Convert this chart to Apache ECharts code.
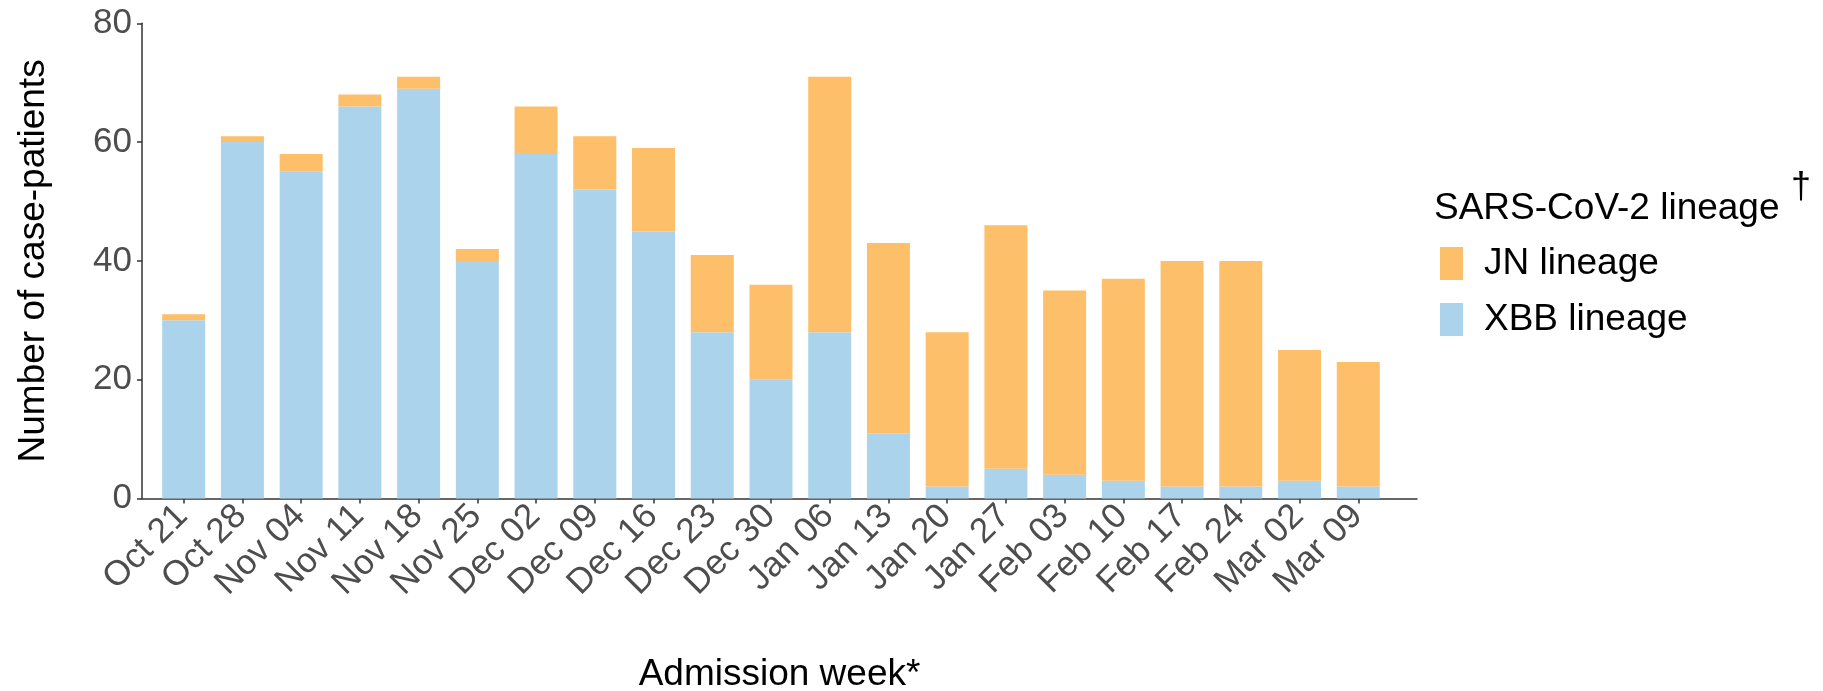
<!DOCTYPE html>
<html>
<head>
<meta charset="utf-8">
<script src="https://cdn.jsdelivr.net/npm/echarts@6/dist/echarts.min.js"></script>
<style>
html,body{margin:0;padding:0;background:#fff;}
#c{width:1823px;height:691px;}
</style>
</head>
<body>
<div id="c"></div>
<script>
const weeks = ["Oct 21","Oct 28","Nov 04","Nov 11","Nov 18","Nov 25","Dec 02","Dec 09","Dec 16","Dec 23","Dec 30","Jan 06","Jan 13","Jan 20","Jan 27","Feb 03","Feb 10","Feb 17","Feb 24","Mar 02","Mar 09"];
const xbb = [30,60,55,66,69,40,58,52,45,28,20,28,11,2,5,4,3,2,2,3,2];
const jn  = [1,1,3,2,2,2,8,9,14,13,16,43,32,26,41,31,34,38,38,22,21];
const yTicks = [0,20,40,60,80];

const FONT = "'Liberation Sans', Arial, Helvetica, sans-serif";
const idx = weeks.map((w,i)=>i);
const chart = echarts.init(document.getElementById('c'), null, {renderer:'canvas'});
chart.setOption({
  animation:false,
  backgroundColor:'#ffffff',
  textStyle:{fontFamily:FONT},
  grid:{left:142, right:406, top:23.3, bottom:192.5, containLabel:false, outerBoundsMode:'none'},
  xAxis:{
    type:'value', min:-0.71, max:21.0,
    name:'Admission week*', nameLocation:'middle', nameGap:158,
    nameTextStyle:{fontSize:37, color:'#000', fontFamily:FONT},
    axisLine:{show:true, onZero:false, lineStyle:{color:'#333', width:1.5}},
    axisTick:{show:true, customValues:idx, length:5, lineStyle:{color:'#333', width:1.5}},
    axisLabel:{show:true, customValues:idx, rotate:45, fontSize:35, lineHeight:28, color:'#4D4D4D', margin:-9,
      align:'right', verticalAlign:'top', padding:[0,16,0,0],
      fontFamily:FONT, formatter:function(v){return weeks[Math.round(v)];}},
    splitLine:{show:false}
  },
  yAxis:{
    type:'value', min:0, max:80, interval:20,
    name:'Number of case-patients', nameLocation:'middle', nameGap:90, nameRotate:90,
    nameTextStyle:{fontSize:37, color:'#000', fontFamily:FONT},
    axisLine:{show:true, onZero:false, lineStyle:{color:'#333', width:1.5}},
    axisTick:{show:true, length:5, lineStyle:{color:'#333', width:1.5}},
    axisLabel:{fontSize:35, color:'#4D4D4D', margin:10, fontFamily:FONT,
      formatter:function(v){return yTicks.indexOf(v)>=0 ? String(v) : '';}},
    splitLine:{show:false}
  },
  legend:{
    orient:'vertical', left:1435, top:240,
    itemWidth:23, itemHeight:33, itemGap:19,
    icon:'rect',
    data:['JN lineage','XBB lineage'],
    textStyle:{fontSize:37, color:'#000', fontFamily:FONT, lineHeight:33, padding:[0,0,0,16]}
  },
  graphic:[
    {type:'text', left:1434, top:190, style:{text:'SARS-CoV-2 lineage', fontSize:37, fill:'#000', fontFamily:FONT}},
    {type:'text', left:1791, top:170, style:{text:'\u2020', fontSize:36, fill:'#000', fontFamily:FONT}}
  ],
  series:[
    {name:'XBB lineage', type:'bar', stack:'total', barWidth:43,
      encode:{x:1, y:0},
      itemStyle:{color:'#ABD4EC'}, data:xbb.map((v,i)=>[v,i])},
    {name:'JN lineage', type:'bar', stack:'total', barWidth:43,
      encode:{x:1, y:0},
      itemStyle:{color:'#FDBF6A'}, data:jn.map((v,i)=>[v,i])}
  ]
});
</script>
</body>
</html>
